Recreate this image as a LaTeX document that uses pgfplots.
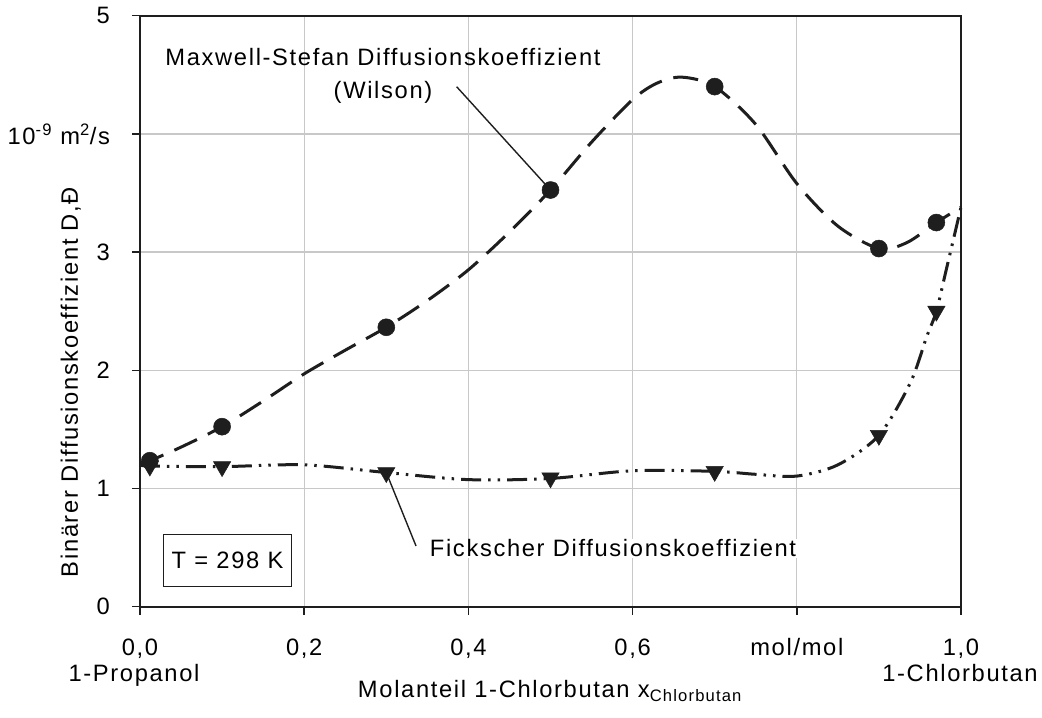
\documentclass[border=0pt]{standalone}
\usepackage{fontspec}
\setmainfont{Liberation Sans}[LetterSpace=7]
\usepackage{pgfplots}
\pgfplotsset{compat=1.18}

\definecolor{gridgray}{RGB}{200,200,200}
\definecolor{ink}{RGB}{30,30,30}

\begin{document}
\fontsize{23.8}{28}\selectfont
\begin{tikzpicture}[x=1bp,y=1bp]
\path[use as bounding box] (-140,-111.3) rectangle (902,606.7);
\begin{axis}[
  at={(0,0)}, anchor=south west,
  scale only axis, width=821bp, height=591bp,
  xmin=0, xmax=1, ymin=0, ymax=5,
  xtick={0,0.2,0.4,0.6,0.8,1},
  xticklabels={{0,0},{0,2},{0,4},{0,6},mol/mol,{1,0}},
  ytick={0,1,2,3,4,5},
  yticklabels={0,1,2,3,{10\textsuperscript{-9} m\textsuperscript{2}/s},5},
  tick pos=left, tick align=outside,
  major tick length=8bp,
  grid=major,
  major grid style={gridgray, line width=1.3bp},
  axis line style={ink, line width=1.8bp},
  tick style={ink, line width=1.5bp},
  xticklabel style={anchor=north, yshift=-16bp},
  yticklabel style={anchor=east, xshift=-14bp},
  clip=false,
  axis on top=false,
]
% leader lines to the annotated curves
\draw[ink, line width=1.4bp] (axis cs:0.3857,4.399) -- (axis cs:0.5,3.525);
\draw[ink, line width=1.4bp] (axis cs:0.3362,0.5135) -- (axis cs:0.3,1.135);

% Maxwell-Stefan diffusion coefficient (Wilson model)
\addplot[ink, line width=3bp, dash pattern=on 25bp off 12bp, smooth] coordinates {
  (0,1.21) (0.012,1.235) (0.05,1.35) (0.1,1.523) (0.15,1.74) (0.2,1.97)
  (0.25,2.17) (0.3,2.364) (0.35,2.59) (0.4,2.85) (0.45,3.17) (0.5,3.525)
  (0.55,3.93) (0.6,4.29) (0.63,4.43) (0.66,4.48) (0.7,4.40) (0.75,4.08)
  (0.8,3.58) (0.85,3.22) (0.9,3.03) (0.934,3.08) (0.97,3.25) (1.0,3.38)
};
\addplot[only marks, mark=*, mark size=8.5bp, mark options={solid, fill=ink, draw=ink, line width=0.5bp}] coordinates {
  (0.012,1.235) (0.1,1.523) (0.3,2.364) (0.5,3.525) (0.7,4.40) (0.9,3.03) (0.97,3.25)
};

% Fick diffusion coefficient
\addplot[ink, line width=3bp, dash pattern=on 20bp off 7bp on 2.5bp off 7bp on 2.5bp off 7bp, smooth] coordinates {
  (0,1.2) (0.012,1.19) (0.1,1.185) (0.2,1.2) (0.3,1.135) (0.4,1.075)
  (0.5,1.085) (0.6,1.15) (0.7,1.145) (0.75,1.12) (0.8,1.105) (0.85,1.2)
  (0.9,1.45) (0.938,1.89) (0.958,2.28) (0.97,2.5) (0.982,2.85) (1.0,3.38)
};
\addplot[only marks, mark=triangle*, mark size=10bp, mark options={solid, rotate=180, fill=ink, draw=ink, line width=0.5bp}] coordinates {
  (0.012,1.19) (0.1,1.185) (0.3,1.135) (0.5,1.09) (0.7,1.145) (0.9,1.45) (0.97,2.5)
};
\end{axis}

% annotations
\node[anchor=base] at (243,540.7) {Maxwell-Stefan Diffusionskoeffizient};
\node[anchor=base] at (243,507.7) {(Wilson)};
\node[anchor=base, fill=white, inner sep=1bp] at (473,50) {Fickscher Diffusionskoeffizient};
\node[draw=ink, line width=1.2bp, fill=white, minimum width=128.4bp, minimum height=52.7bp, inner sep=0pt] at (87.5,46.2) {T = 298 K};

% axis descriptions
\node[anchor=base] at (-6,-75.3) {1-Propanol};
\node[anchor=base] at (820,-75.3) {1-Chlorbutan};
\node[anchor=base] at (410,-91.3) {Molanteil 1-Chlorbutan x\textsubscript{Chlorbutan}};
\node[anchor=base, rotate=90] at (-62,224.7) {Binärer Diffusionskoeffizient D,Đ};
\end{tikzpicture}
\end{document}
